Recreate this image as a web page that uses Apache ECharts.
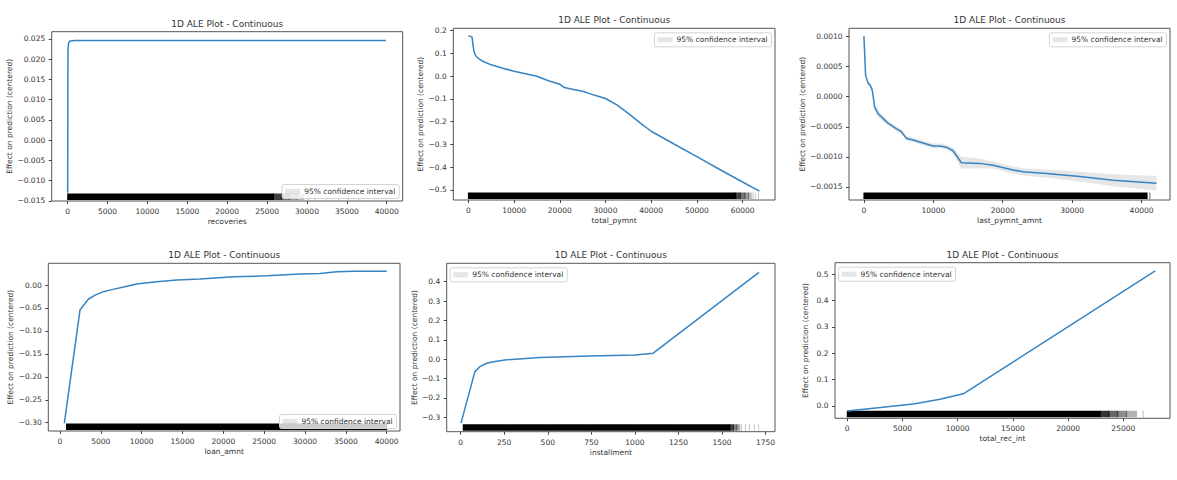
<!DOCTYPE html>
<html>
<head>
<meta charset="utf-8">
<script src="https://cdn.jsdelivr.net/npm/echarts@6/dist/echarts.min.js"></script>
<style>
html,body{margin:0;padding:0;background:#fff;}
#c{width:1177px;height:480px;}
</style>
</head>
<body>
<div id="c"></div>
<script>
// ---------------- DATA ----------------
const titleText = '1D ALE Plot - Continuous';
const yAxisLabel = 'Effect on prediction (centered)';
const legendLabel = '95% confidence interval';

// Panel 1: recoveries
const recX = [0, 40, 120, 300, 1000, 39900];
const recY = [-0.0130, 0.0225, 0.0240, 0.0245, 0.0246, 0.0246];
const recRug = [[0, 25800, 1], [25800, 26800, 0.75], [26800, 27800, 0.55], [27800, 28800, 0.4], [28800, 29600, 0.28],
  [30200, 30200, 0.25], [31000, 31000, 0.25], [32500, 32500, 0.2], [34000, 34000, 0.2], [35200, 35200, 0.2], [36500, 36500, 0.2], [39900, 39900, 0.2]];
const recXTicks = [0, 5000, 10000, 15000, 20000, 25000, 30000, 35000, 40000];
const recXLabels = ['0', '5000', '10000', '15000', '20000', '25000', '30000', '35000', '40000'];
const recYTicks = [-0.015, -0.010, -0.005, 0, 0.005, 0.010, 0.015, 0.020, 0.025];
const recYLabels = ['\u22120.015', '\u22120.010', '\u22120.005', '0.000', '0.005', '0.010', '0.015', '0.020', '0.025'];

// Panel 2: total_pymnt
const payX = [0, 500, 800, 1000, 1200, 1600, 2200, 3000, 5000, 7500, 10000, 12500, 15000, 17500, 20000, 21000, 23000, 25000,
  27500, 30000, 32500, 35000, 37500, 40000, 45000, 50000, 55000, 60000, 63700];
const payY = [0.177, 0.175, 0.172, 0.14, 0.11, 0.09, 0.078, 0.067, 0.05, 0.035, 0.022, 0.011, 0.0, -0.02, -0.035, -0.05, -0.058, -0.066,
  -0.083, -0.098, -0.126, -0.163, -0.204, -0.242, -0.298, -0.353, -0.41, -0.465, -0.505];
const payRug = [[0, 58500, 1], [58500, 59500, 0.75], [59500, 60500, 0.55], [60500, 61300, 0.4], [61300, 61900, 0.28],
  [62300, 62300, 0.25], [62800, 62800, 0.2], [63500, 63500, 0.25]];
const payXTicks = [0, 10000, 20000, 30000, 40000, 50000, 60000];
const payXLabels = ['0', '10000', '20000', '30000', '40000', '50000', '60000'];
const payYTicks = [-0.5, -0.4, -0.3, -0.2, -0.1, 0, 0.1, 0.2];
const payYLabels = ['\u22120.5', '\u22120.4', '\u22120.3', '\u22120.2', '\u22120.1', '0.0', '0.1', '0.2'];

// Panel 3: last_pymnt_amnt
const lastX = [0, 240, 580, 910, 1200, 1540, 2020, 2740, 3460, 4660, 5380, 6100, 7070, 8510, 9950, 10910, 11870, 12840,
  14040, 16680, 18600, 21490, 22930, 26300, 31100, 35900, 42160];
const lastY = [0.00101, 0.00036, 0.00023, 0.00019, 0.00011, -0.00017, -0.00028, -0.00036, -0.00044, -0.00053, -0.00058, -0.00069,
  -0.00072, -0.00077, -0.00082, -0.00082, -0.00084, -0.0009, -0.0011, -0.00111, -0.00114, -0.00122, -0.00125, -0.00128, -0.00133,
  -0.00139, -0.00144];
const lastLow = [0.00099, 0.00033, 0.00020, 0.00015, 0.00007, -0.00022, -0.00034, -0.00041, -0.00048, -0.00057, -0.00062, -0.00073,
  -0.00076, -0.00081, -0.00086, -0.00086, -0.00088, -0.00095, -0.00120, -0.00119, -0.00120, -0.00128, -0.00131, -0.00135, -0.00141,
  -0.00149, -0.00156];
const lastUp = [0.00103, 0.00039, 0.00026, 0.00023, 0.00015, -0.00012, -0.00022, -0.00031, -0.00040, -0.00049, -0.00054, -0.00065,
  -0.00068, -0.00073, -0.00078, -0.00078, -0.00080, -0.00085, -0.00100, -0.00103, -0.00108, -0.00116, -0.00119, -0.00121, -0.00125,
  -0.00129, -0.00132];
const lastRug = [[0, 40800, 1], [41200, 41200, 0.6]];
const lastXTicks = [0, 10000, 20000, 30000, 40000];
const lastXLabels = ['0', '10000', '20000', '30000', '40000'];
const lastYTicks = [-0.0015, -0.0010, -0.0005, 0, 0.0005, 0.0010];
const lastYLabels = ['\u22120.0015', '\u22120.0010', '\u22120.0005', '0.0000', '0.0005', '0.0010'];

// Panel 4: loan_amnt
const loanX = [530, 2450, 3470, 4290, 5310, 6500, 7800, 9390, 11840, 14290, 17140, 21220, 25310, 29390, 31840, 33880, 35920, 40000];
const loanY = [-0.3015, -0.0545, -0.031, -0.022, -0.0145, -0.0095, -0.0044, 0.002, 0.007, 0.011, 0.013, 0.018, 0.020, 0.024, 0.025,
  0.029, 0.030, 0.030];
const loanRug = [[800, 40000, 1]];
const loanXTicks = [0, 5000, 10000, 15000, 20000, 25000, 30000, 35000, 40000];
const loanXLabels = ['0', '5000', '10000', '15000', '20000', '25000', '30000', '35000', '40000'];
const loanYTicks = [-0.30, -0.25, -0.20, -0.15, -0.10, -0.05, 0];
const loanYLabels = ['\u22120.30', '\u22120.25', '\u22120.20', '\u22120.15', '\u22120.10', '\u22120.05', '0.00'];

// Panel 5: installment
const instX = [2, 82, 111, 149, 168, 207, 264, 455, 742, 1000, 1105, 1712];
const instY = [-0.33, -0.064, -0.038, -0.021, -0.017, -0.01, -0.003, 0.009, 0.017, 0.022, 0.031, 0.448];
const instRug = [[15, 1545, 1], [1545, 1565, 0.75], [1565, 1585, 0.5], [1585, 1600, 0.35], [1610, 1610, 0.3], [1634, 1634, 0.25],
  [1657, 1657, 0.25], [1686, 1686, 0.2], [1710, 1710, 0.2]];
const instXTicks = [0, 250, 500, 750, 1000, 1250, 1500, 1750];
const instXLabels = ['0', '250', '500', '750', '1000', '1250', '1500', '1750'];
const instYTicks = [-0.3, -0.2, -0.1, 0, 0.1, 0.2, 0.3, 0.4];
const instYLabels = ['\u22120.3', '\u22120.2', '\u22120.1', '0.0', '0.1', '0.2', '0.3', '0.4'];

// Panel 6: total_rec_int
const intX = [0, 3000, 5980, 8400, 10510, 27890];
const intY = [-0.019, -0.006, 0.0076, 0.025, 0.046, 0.513];
const intRug = [[0, 22900, 1], [22900, 23700, 0.8], [23700, 24500, 0.6], [24500, 25300, 0.45], [25300, 26200, 0.3], [26800, 26800, 0.25]];
const intXTicks = [0, 5000, 10000, 15000, 20000, 25000];
const intXLabels = ['0', '5000', '10000', '15000', '20000', '25000'];
const intYTicks = [0, 0.1, 0.2, 0.3, 0.4, 0.5];
const intYLabels = ['0.0', '0.1', '0.2', '0.3', '0.4', '0.5'];

// ---------------- LAYOUT ----------------
const FONT = 'DejaVu Sans';
const TXT = '#333';
const LINE = '#3684c2';
const panels = [
  {name: 'recoveries', x: recX, y: recY, rug: recRug, xt: recXTicks, xl: recXLabels, yt: recYTicks, yl: recYLabels,
   g: [51.7, 31.7, 402.7, 201], xr: [-2000, 42000], yr: [-0.01505, 0.0268], yGap: 37.5, leg: 'lr'},
  {name: 'total_pymnt', x: payX, y: payY, rug: payRug, xt: payXTicks, xl: payXLabels, yt: payYTicks, yl: payYLabels,
   g: [453.3, 28.3, 775, 200], xr: [-3300, 67100], yr: [-0.544, 0.2105], yGap: 26, leg: 'ur'},
  {name: 'last_pymnt_amnt', x: lastX, y: lastY, rug: lastRug, xt: lastXTicks, xl: lastXLabels, yt: lastYTicks, yl: lastYLabels,
   g: [849, 28.3, 1170, 200], xr: [-2150, 44100], yr: [-0.00172, 0.00114], yGap: 40, leg: 'ur', ci: [lastLow, lastUp]},
  {name: 'loan_amnt', x: loanX, y: loanY, rug: loanRug, xt: loanXTicks, xl: loanXLabels, yt: loanYTicks, yl: loanYLabels,
   g: [48.3, 263.3, 400, 431], xr: [-1430, 41630], yr: [-0.318, 0.0473], yGap: 34, leg: 'lr'},
  {name: 'installment', x: instX, y: instY, rug: instRug, xt: instXTicks, xl: instXLabels, yt: instYTicks, yl: instYLabels,
   g: [446.7, 263.3, 775, 431.7], xr: [-80, 1804], yr: [-0.374, 0.495], yGap: 27.5, leg: 'ul'},
  {name: 'total_rec_int', x: intX, y: intY, rug: intRug, xt: intXTicks, xl: intXLabels, yt: intYTicks, yl: intYLabels,
   g: [835, 262.7, 1170, 418.3], xr: [-1110, 29230], yr: [-0.047, 0.544], yGap: 26, leg: 'ul'}
];

function labeler(ticks, labels) {
  return function (v) {
    for (let i = 0; i < ticks.length; i++) {
      if (Math.abs(ticks[i] - v) < 1e-10) return labels[i];
    }
    return '';
  };
}

const mctx = document.createElement('canvas').getContext('2d');
function textW(t, size) { mctx.font = size + 'px "' + FONT + '"'; return mctx.measureText(t).width; }

const grids = [], xAxes = [], yAxes = [], series = [], titles = [], graphics = [];
const LW = 117, LH = 14;

panels.forEach((p, i) => {
  const [l, t, r, b] = p.g;
  grids.push({left: l, top: t, width: r - l, height: b - t, show: true, borderColor: '#555', borderWidth: 1,
    backgroundColor: 'transparent', containLabel: false, outerBoundsMode: 'none'});
  const tickStyle = {lineStyle: {color: '#444', width: 1}};
  xAxes.push({type: 'value', gridIndex: i, position: 'bottom', min: p.xr[0], max: p.xr[1], name: p.name, nameLocation: 'middle', nameGap: 16.5,
    nameTextStyle: {fontSize: 7.5, color: TXT, fontFamily: FONT},
    axisLine: {show: false, onZero: false}, splitLine: {show: false},
    axisTick: Object.assign({show: true, inside: false, length: 3, customValues: p.xt}, tickStyle),
    axisLabel: {customValues: p.xt, formatter: labeler(p.xt, p.xl), fontSize: 7.5, color: TXT, fontFamily: FONT, margin: 6.5}});
  yAxes.push({type: 'value', gridIndex: i, position: 'left', min: p.yr[0], max: p.yr[1], name: yAxisLabel, nameLocation: 'middle', nameGap: p.yGap,
    nameTextStyle: {fontSize: 7.5, color: TXT, fontFamily: FONT},
    axisLine: {show: false, onZero: false}, splitLine: {show: false},
    axisTick: Object.assign({show: true, inside: false, length: 3, customValues: p.yt}, tickStyle),
    axisLabel: {customValues: p.yt, formatter: labeler(p.yt, p.yl), fontSize: 7.5, color: TXT, fontFamily: FONT, margin: 6.5}});

  // title
  const tw = textW(titleText, 9);
  titles.push({text: titleText, left: (l + r) / 2 - tw / 2, top: t - 13, padding: 0,
    textStyle: {fontSize: 9, fontWeight: 'normal', color: TXT, fontFamily: FONT, lineHeight: 10}});

  // confidence band
  if (p.ci) {
    const lo = p.ci[0], up = p.ci[1];
    series.push({type: 'custom', xAxisIndex: i, yAxisIndex: i, silent: true, z: 1, clip: true,
      data: p.x.map((v, j) => [v, lo[j], up[j]]),
      renderItem: function (params, api) {
        if (params.dataIndexInside !== 0) return null;
        const n = params.dataInsideLength;
        const pts = [];
        for (let k = 0; k < n; k++) pts.push(api.coord([api.value(0, k), api.value(2, k)]));
        for (let k = n - 1; k >= 0; k--) pts.push(api.coord([api.value(0, k), api.value(1, k)]));
        return {type: 'polygon', shape: {points: pts}, style: {fill: 'rgba(128,128,128,0.2)'}};
      }});
  }

  // rug
  series.push({type: 'custom', xAxisIndex: i, yAxisIndex: i, silent: true, z: 2, clip: true,
    data: p.rug,
    encode: {x: [0, 1]},
    renderItem: function (params, api) {
      const cs = params.coordSys;
      const bottom = cs.y + cs.height;
      const xa = api.coord([api.value(0), p.yr[0]])[0];
      const xb = api.coord([api.value(1), p.yr[0]])[0];
      return {type: 'rect', shape: {x: xa - 0.5, y: bottom - 7.5, width: Math.max(1, xb - xa + 1), height: 6.5},
        style: {fill: 'rgba(0,0,0,' + api.value(2) + ')'}};
    }});

  // ALE line
  series.push({type: 'line', xAxisIndex: i, yAxisIndex: i, data: p.x.map((v, j) => [v, p.y[j]]),
    showSymbol: false, symbol: 'none', silent: true, z: 3,
    lineStyle: {color: LINE, width: 1.5}});

  // legend (drawn as graphic)
  let lx, ly;
  if (p.leg === 'lr') { lx = r - 3.5 - LW; ly = b - 2.5 - LH; }
  else if (p.leg === 'ur') { lx = r - 3.5 - LW; ly = t + 4.5; }
  else { lx = l + 3.5; ly = t + 4.5; }
  graphics.push({type: 'group', x: lx, y: ly, z: 100, silent: true, children: [
    {type: 'rect', z: 100, shape: {x: 0, y: 0, width: LW, height: LH, r: 2},
      style: {fill: 'rgba(255,255,255,0.8)', stroke: '#d4d4d4', lineWidth: 1}},
    {type: 'rect', z: 101, shape: {x: 3, y: LH / 2 - 2.6, width: 15, height: 5.2},
      style: {fill: 'rgba(128,128,128,0.2)'}},
    {type: 'text', z: 101, x: 22, y: LH / 2,
      style: {text: legendLabel, fontSize: 7.5, fontFamily: FONT, fill: TXT, align: 'left', verticalAlign: 'middle'}}
  ]});
});

const chart = echarts.init(document.getElementById('c'), null, {renderer: 'svg', width: 1177, height: 480});
chart.setOption({
  animation: false,
  backgroundColor: '#fff',
  title: titles,
  grid: grids,
  xAxis: xAxes,
  yAxis: yAxes,
  series: series,
  graphic: graphics
});
</script>
</body>
</html>
